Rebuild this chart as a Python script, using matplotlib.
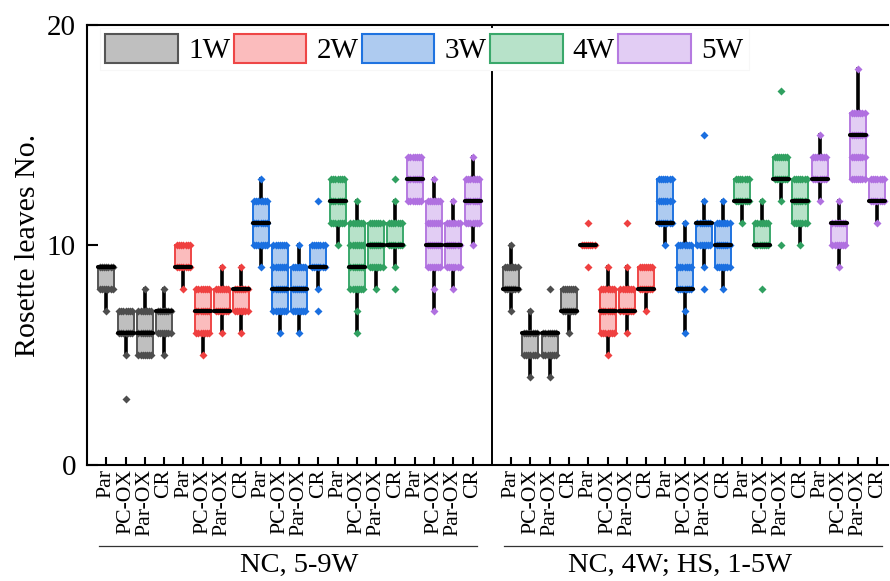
import matplotlib
matplotlib.use('Agg')
import matplotlib.pyplot as plt
from matplotlib.patches import Patch
import numpy as np

plt.rcParams['font.family'] = ['Liberation Serif', 'DejaVu Serif']

weeks = ['1W', '2W', '3W', '4W', '5W']
genotypes = ['Par', 'PC-OX', 'Par-OX', 'CR']
panel_labels = ['NC, 5-9W', 'NC, 4W; HS, 1-5W']

# Panel 1: NC, 5-9W (5 weeks x 4 genotypes)
nc_whislo = [7, 5, 5, 5, 8, 5, 6, 6, 9, 6, 6, 8, 10, 6, 8, 9, 12, 7, 8, 10]
nc_q1 = [8, 6, 5, 6, 9, 6, 7, 7, 10, 7, 7, 9, 11, 8, 9, 10, 12, 9, 9, 11]
nc_med = [9, 6, 6, 7, 9, 7, 7, 8, 11, 8, 8, 9, 12, 9, 10, 10, 13, 10, 10, 12]
nc_q3 = [9, 7, 7, 7, 10, 8, 8, 8, 12, 10, 9, 10, 13, 11, 11, 11, 14, 12, 11, 13]
nc_whishi = [9, 7, 8, 8, 10, 8, 9, 9, 13, 10, 10, 10, 13, 12, 11, 12, 14, 13, 12, 14]
nc_points = [
    [7, 8, 9], [3, 5, 6, 7], [5, 6, 7, 8], [5, 6, 7, 8],
    [8, 9, 10], [5, 6, 7, 8], [6, 7, 8, 9], [6, 7, 8, 9],
    [9, 10, 11, 12, 13], [6, 7, 8, 9, 10], [6, 7, 8, 9, 10], [7, 8, 9, 10, 12],
    [10, 11, 12, 13], [6, 7, 8, 9, 10, 11, 12], [8, 9, 10, 11], [8, 9, 10, 11, 12, 13],
    [12, 13, 14], [7, 8, 9, 10, 11, 12, 13], [8, 9, 10, 11, 12], [10, 11, 12, 13, 14],
]

# Panel 2: NC, 4W; HS, 1-5W
hs_whislo = [7, 4, 4, 6, 10, 5, 6, 7, 10, 6, 9, 8, 11, 10, 12, 10, 12, 9, 13, 11]
hs_q1 = [8, 5, 5, 7, 10, 6, 7, 8, 11, 8, 10, 9, 12, 10, 13, 11, 13, 10, 13, 12]
hs_med = [8, 6, 6, 7, 10, 7, 7, 8, 11, 8, 11, 10, 12, 10, 13, 12, 13, 11, 15, 12]
hs_q3 = [9, 6, 6, 8, 10, 8, 8, 9, 13, 10, 11, 11, 13, 11, 14, 13, 14, 11, 16, 13]
hs_whishi = [10, 7, 6, 8, 10, 9, 9, 9, 13, 11, 12, 12, 13, 12, 14, 13, 15, 12, 18, 13]
hs_points = [
    [7, 8, 9, 10], [4, 5, 6, 7], [4, 5, 6, 8], [6, 7, 8],
    [9, 10, 11], [5, 6, 7, 8, 9], [6, 7, 8, 9, 11], [7, 8, 9],
    [10, 11, 12, 13], [6, 7, 8, 9, 10, 11], [8, 9, 10, 11, 12, 15], [8, 9, 10, 11, 12],
    [11, 12, 13], [8, 10, 11, 12], [10, 12, 13, 14, 17], [10, 11, 12, 13],
    [12, 13, 14, 15], [9, 10, 11, 12], [13, 14, 15, 16, 18], [11, 12, 13],
]

edge_colors = ['#555555', '#ee4646', '#1f73e0', '#3aa86b', '#b57ae0']
face_colors = ['#bfbfbf', '#fbbcbd', '#aecbf0', '#b7e2c9', '#e2cdf4']
point_colors = ['#4d4d4d', '#ef4040', '#1a6fe0', '#30a060', '#b070e0']

fig = plt.figure(figsize=(8.9, 5.81), dpi=100)
ax = fig.add_axes([87 / 890, 1 - 465 / 581, 801 / 890, 440 / 581])

panels = [
    (nc_whislo, nc_q1, nc_med, nc_q3, nc_whishi, nc_points),
    (hs_whislo, hs_q1, hs_med, hs_q3, hs_whishi, hs_points),
]
offsets = [0, 21]
width = 0.83
tick_pos = []
for p, (lo, q1, med, q3, hi, pts) in enumerate(panels):
    for i in range(20):
        g = i // 4
        pos = offsets[p] + i
        tick_pos.append(pos)
        stats = [dict(whislo=lo[i], q1=q1[i], med=med[i], q3=q3[i],
                      whishi=hi[i], fliers=[])]
        res = ax.bxp(stats, positions=[pos], widths=width, patch_artist=True,
                     showcaps=False, showfliers=False, manage_ticks=False,
                     boxprops=dict(facecolor=face_colors[g], edgecolor=edge_colors[g],
                                   linewidth=1.4),
                     whiskerprops=dict(color='black', linewidth=2.6),
                     medianprops=dict(color='black', linewidth=3.0,
                                      solid_capstyle='round'))
        for b in res['boxes']:
            b.set_zorder(2)
        for w in res['whiskers']:
            w.set_zorder(2)
        for m in res['medians']:
            m.set_zorder(4)
        for v in pts[i]:
            if q1[i] <= v <= q3[i]:
                xs = pos + np.linspace(-0.4, 0.4, 7) * width
            else:
                xs = np.array([pos])
            ax.plot(xs, [v] * len(xs), 'D', ms=4.2, color=point_colors[g],
                    mec='none', zorder=3)

ax.axvline(20, color='black', lw=1.4, zorder=1)

ax.set_xlim(-1, 40.55)
ax.set_ylim(0, 20)
ax.set_yticks([0, 10, 20])
ax.set_xticks(tick_pos, genotypes * 10, rotation=90, fontsize=15.7)
ax.tick_params(axis='x', direction='in', length=6, width=1.5, pad=3)
ax.tick_params(axis='y', direction='in', length=8, width=1.5, labelsize=21, pad=8)
for s in ax.spines.values():
    s.set_linewidth(1.5)
ax.spines['right'].set_visible(False)

ax.set_ylabel('Rosette leaves No.', fontsize=21.5)
ax.yaxis.set_label_coords(-0.058, 0.5)

trans = ax.get_xaxis_transform()
line_spans = [(-0.36, 19.24), (20.64, 40.25)]
text_x = [10.0, 29.77]
for (x0, x1), tx, lab in zip(line_spans, text_x, panel_labels):
    ax.plot([x0, x1], [-0.184, -0.184], transform=trans, color='#333333',
            lw=0.9, clip_on=False)
    ax.text(tx, -0.229, lab, transform=trans, ha='center', va='center',
            fontsize=20.5)

handles = [Patch(facecolor=fc, edgecolor=ec, linewidth=1.5)
           for fc, ec in zip(face_colors, edge_colors)]
leg = ax.legend(handles, weeks, ncol=5, loc='upper left',
                bbox_to_anchor=(0.012, 1.0), borderaxespad=0.1, fontsize=21,
                handlelength=2.5, handleheight=1.15, handletextpad=0.35,
                columnspacing=0.1, borderpad=0.2, frameon=True, fancybox=False,
                edgecolor='#f7f7f7', framealpha=1)
leg.get_frame().set_linewidth(0.8)
leg.set_zorder(5)

fig.savefig('out.png', dpi=100)
